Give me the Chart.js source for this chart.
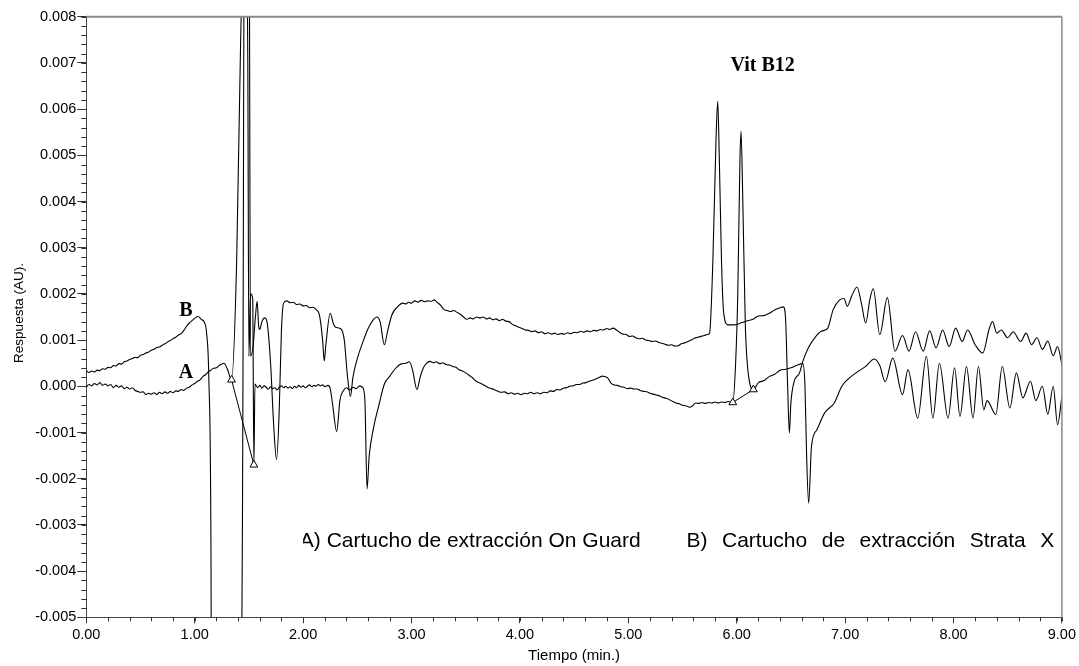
<!DOCTYPE html>
<html>
<head>
<meta charset="utf-8">
<script src="https://cdn.jsdelivr.net/npm/chart.js@4.4.1/dist/chart.umd.min.js"></script>
<style>
  html, body { margin: 0; padding: 0; background: #fff; }
  #wrap { width: 1079px; height: 666px; position: relative; }
</style>
</head>
<body>
<div id="wrap"><canvas id="chroma"></canvas></div>
<script>
// Trace A - cartucho On Guard (tiempo en min, respuesta en AU)
const timeA = [
  0.000, 0.025, 0.050, 0.075, 0.100, 0.125, 0.150, 0.175, 0.200, 0.225, 0.250, 0.275, 0.300, 0.325, 0.350, 0.375,
  0.400, 0.425, 0.450, 0.475, 0.500, 0.525, 0.550, 0.575, 0.600, 0.625, 0.650, 0.675, 0.700, 0.725, 0.750, 0.775,
  0.800, 0.825, 0.850, 0.875, 0.900, 0.925, 0.950, 0.975, 1.000, 1.025, 1.050, 1.075, 1.100, 1.125, 1.150, 1.175,
  1.200, 1.225, 1.250, 1.270, 1.30, 1.34, 1.387, 1.424, 1.47, 1.49, 1.50, 1.515, 1.535, 1.546,
  1.556, 1.58, 1.60, 1.62, 1.64, 1.66, 1.68, 1.70, 1.72, 1.74, 1.76, 1.78, 1.80, 1.82, 1.84, 1.86,
  1.88, 1.90, 1.92, 1.94, 1.96, 1.98, 2.00, 2.02, 2.04, 2.06, 2.08, 2.10, 2.12, 2.14, 2.16, 2.18,
  2.20, 2.23, 2.25, 2.27, 2.31, 2.34, 2.37, 2.40, 2.43, 2.46, 2.49, 2.52, 2.55, 2.57, 2.59, 2.61,
  2.65, 2.70, 2.75, 2.80, 2.85, 2.90, 2.95, 2.98, 3.01, 3.05, 3.08,
  3.11, 3.14, 3.17, 3.20, 3.23, 3.26, 3.29, 3.32, 3.35, 3.38, 3.41, 3.44, 3.47, 3.50, 3.53, 3.56,
  3.59, 3.62, 3.65, 3.68, 3.71, 3.74, 3.77, 3.80, 3.83, 3.86, 3.89, 3.92, 3.95, 3.98, 4.01, 4.04,
  4.07, 4.10, 4.13, 4.16, 4.19, 4.22, 4.25, 4.28, 4.31, 4.34, 4.37, 4.40, 4.43, 4.46, 4.49, 4.52,
  4.55, 4.58, 4.61, 4.64, 4.67, 4.70, 4.73, 4.76, 4.78, 4.81, 4.84, 4.87, 4.90, 4.93, 4.96, 4.99,
  5.02, 5.05, 5.08, 5.11, 5.14, 5.17, 5.20, 5.23, 5.26, 5.29, 5.32, 5.35, 5.38, 5.41, 5.44, 5.47,
  5.50, 5.53, 5.56, 5.59, 5.62, 5.65, 5.68, 5.71, 5.74, 5.77, 5.80, 5.83, 5.86, 5.89, 5.92, 5.964,
  5.99, 6.01, 6.03, 6.04, 6.055, 6.08, 6.115, 6.154, 6.20, 6.25, 6.30, 6.35, 6.40, 6.45, 6.50, 6.55,
  6.61, 6.63, 6.645, 6.664, 6.69, 6.74, 6.81, 6.90, 6.97, 7.02, 7.10, 7.19, 7.27, 7.32, 7.37, 7.44,
  7.53, 7.58, 7.67, 7.75, 7.81, 7.87, 7.95, 8.01, 8.06, 8.12, 8.18, 8.23, 8.28, 8.31, 8.39, 8.45,
  8.52, 8.58, 8.64, 8.71, 8.76, 8.82, 8.87, 8.92, 8.96, 9.00
];
const respA = [
  -0.00002, 0.00004, 0.00001, 0.00006, 0.00003, 0.00008, 0.00002, 0.00005, 0.00001, 0.00004, -0.00003, 0.00002, -0.00002, 0.00001, -0.00005, -0.00002,
  -0.00006, -0.00003, -0.00009, -0.00011, -0.00013, -0.00012, -0.00018, -0.00015, -0.00017, -0.00014, -0.00018, -0.00013, -0.00016, -0.00012, -0.00015, -0.00011,
  -0.00014, -0.00010, -0.00011, -0.00007, -0.00009, -0.00004, -0.00002, 0.00003, 0.00006, 0.00011, 0.00014, 0.00021, 0.00025, 0.00031, 0.00035, 0.00039,
  0.00040, 0.00045, 0.00048, 0.00050, 0.00038, 0.00014, 0.0027, 0.0075, 0.011, 0.007, 0.00065, 0.0020, 0.0019, -0.0017,
  0.00005, -0.00003, 0.00002, -0.00004, 0.00001, -0.00002, -0.00006, -0.00001, -0.00005, -0.00003, -0.00008, -0.00002, 0.00001, -0.00003, 0.00000, -0.00004,
  -0.00001, -0.00005, 0.00000, -0.00003, 0.00002, -0.00002, 0.00001, -0.00003, 0.00000, 0.00003, -0.00001, 0.00002, 0.00000, 0.00004, 0.00001, 0.00003,
  -0.00001, 0.00002, -0.00005, -0.00035, -0.00098, -0.00030, -0.00010, -0.00003, -0.00008, -0.00002, -0.00005, 0.00001, -0.00003, -0.00030, -0.00222, -0.00150,
  -0.00090, -0.00040, 0.00005, 0.00022, 0.00038, 0.00048, 0.00050, 0.00053, 0.00035, -0.00007, 0.00020,
  0.00040, 0.00050, 0.00054, 0.00051, 0.00053, 0.00049, 0.00051, 0.00047, 0.00046, 0.00043, 0.00041, 0.00036, 0.00033, 0.00029, 0.00024, 0.00019,
  0.00012, 0.00008, 0.00005, 0.00001, -0.00003, -0.00005, -0.00008, -0.00011, -0.00013, -0.00012, -0.00016, -0.00014, -0.00017, -0.00015, -0.00018, -0.00015,
  -0.00016, -0.00013, -0.00016, -0.00014, -0.00016, -0.00013, -0.00014, -0.00010, -0.00011, -0.00007, -0.00008, -0.00004, -0.00003, 0.00000, 0.00001, 0.00004,
  0.00004, 0.00007, 0.00008, 0.00011, 0.00013, 0.00016, 0.00019, 0.00022, 0.00021, 0.00018, 0.00007, 0.00003, 0.00002, -0.00001, -0.00002, -0.00005,
  -0.00004, -0.00006, -0.00006, -0.00009, -0.00011, -0.00012, -0.00015, -0.00017, -0.00019, -0.00021, -0.00024, -0.00026, -0.00029, -0.00033, -0.00036, -0.00038,
  -0.00041, -0.00042, -0.00045, -0.00043, -0.00036, -0.00037, -0.00035, -0.00037, -0.00035, -0.00036, -0.00034, -0.00036, -0.00034, -0.00035, -0.00033, -0.00035,
  0.0005, 0.0020, 0.0049, 0.00552, 0.00418, 0.0013, 0.00014, -0.00007, 0.00008, 0.00012, 0.00021, 0.00026, 0.00035, 0.00037, 0.00040, 0.00045,
  0.00049, 0.00000, -0.0015, -0.00253, -0.0013, -0.00094, -0.00058, -0.00036, 0.00000, 0.00014, 0.00029, 0.00043, 0.00059, 0.00045, 0.00010, 0.00061,
  -0.00018, 0.00036, -0.00069, 0.00065, -0.00069, 0.00050, -0.00069, 0.00040, -0.00065, 0.00043, -0.00069, 0.00043, -0.00051, -0.00031, -0.00061, 0.00043,
  -0.00047, 0.00029, -0.00025, 0.00011, -0.00031, 0.00000, -0.00061, 0.00000, -0.00083, -0.00022
];

// Trace B - cartucho Strata X
const timeB = [
  0.000, 0.025, 0.050, 0.075, 0.100, 0.125, 0.150, 0.175, 0.200, 0.225, 0.250, 0.275, 0.300, 0.325, 0.350, 0.375,
  0.400, 0.425, 0.450, 0.475, 0.500, 0.525, 0.550, 0.575, 0.600, 0.625, 0.650, 0.675, 0.700, 0.725, 0.750, 0.775,
  0.800, 0.825, 0.850, 0.875, 0.900, 0.925, 0.950, 0.975, 1.000, 1.03, 1.06, 1.09, 1.11, 1.13, 1.15, 1.16,
  1.42, 1.445, 1.46, 1.50, 1.515, 1.54, 1.56, 1.576, 1.59, 1.60, 1.62, 1.647, 1.67, 1.70, 1.73, 1.755,
  1.78, 1.80, 1.82, 1.85, 1.88, 1.91, 1.94, 1.97, 2.00, 2.03, 2.06, 2.09, 2.12, 2.15, 2.18, 2.195,
  2.21, 2.25, 2.28, 2.30, 2.35, 2.38, 2.41, 2.437, 2.46, 2.50, 2.55, 2.60, 2.65, 2.68, 2.71, 2.75,
  2.78, 2.82, 2.87, 2.92, 2.95, 2.97, 3.00, 3.03, 3.06, 3.09, 3.12, 3.15, 3.18, 3.21, 3.24, 3.27,
  3.30, 3.33, 3.36, 3.39, 3.42, 3.45, 3.48, 3.51, 3.54, 3.57, 3.60, 3.63, 3.66, 3.69, 3.72, 3.75,
  3.78, 3.81, 3.84, 3.87, 3.90, 3.93, 3.96, 3.99, 4.02, 4.05, 4.08, 4.11, 4.14, 4.17, 4.20, 4.23,
  4.26, 4.29, 4.32, 4.35, 4.38, 4.41, 4.44, 4.47, 4.50, 4.53, 4.56, 4.59, 4.62, 4.65, 4.68, 4.71,
  4.74, 4.77, 4.80, 4.83, 4.86, 4.89, 4.92, 4.95, 4.98, 5.01, 5.04, 5.07, 5.10, 5.13, 5.16, 5.19,
  5.22, 5.25, 5.28, 5.31, 5.34, 5.37, 5.40, 5.43, 5.46, 5.49, 5.52, 5.55, 5.58, 5.61, 5.64, 5.67,
  5.70, 5.73, 5.75, 5.78, 5.81, 5.825, 5.84, 5.86, 5.88, 5.92, 5.98, 6.05, 6.10, 6.15, 6.20, 6.25,
  6.30, 6.35, 6.40, 6.43, 6.45, 6.47, 6.486, 6.50, 6.53, 6.58, 6.61, 6.66, 6.72, 6.78, 6.84, 6.89,
  6.95, 6.99, 7.02, 7.06, 7.11, 7.15, 7.19, 7.23, 7.26, 7.32, 7.39, 7.46, 7.53, 7.59, 7.65, 7.72,
  7.78, 7.84, 7.90, 7.96, 8.02, 8.08, 8.13, 8.20, 8.27, 8.33, 8.36, 8.40, 8.44, 8.50, 8.55, 8.62,
  8.67, 8.72, 8.77, 8.82, 8.87, 8.92, 8.96, 9.00
];
const respB = [
  0.00034, 0.00030, 0.00033, 0.00031, 0.00035, 0.00034, 0.00038, 0.00037, 0.00041, 0.00040, 0.00045, 0.00044, 0.00049, 0.00048, 0.00053, 0.00055,
  0.00058, 0.00060, 0.00063, 0.00062, 0.00067, 0.00069, 0.00072, 0.00074, 0.00078, 0.00080, 0.00084, 0.00085, 0.00089, 0.00092, 0.00096, 0.00099,
  0.00103, 0.00106, 0.00111, 0.00114, 0.00121, 0.00130, 0.00137, 0.00142, 0.00147, 0.00151, 0.00145, 0.00138, 0.00115, 0.0002, -0.0035, -0.012,
  -0.012, 0.0, 0.012, 0.012, 0.00065, 0.0009, 0.0015, 0.00184, 0.0013, 0.00123, 0.0014, 0.00148, 0.00135, 0.0005, -0.0009, -0.00159,
  -0.0005, 0.0012, 0.0018, 0.00185, 0.00181, 0.00182, 0.00177, 0.00178, 0.00174, 0.00175, 0.00170, 0.00171, 0.00166, 0.00155, 0.0010, 0.00055,
  0.0009, 0.00158, 0.00135, 0.00128, 0.00124, 0.0010, 0.0002, -0.00022, 0.0002, 0.0006, 0.00095, 0.00125, 0.00145, 0.00150, 0.00140, 0.00090,
  0.0012, 0.00155, 0.00172, 0.00180, 0.00178, 0.00182, 0.00180, 0.00185, 0.00182, 0.00186, 0.00183, 0.00185, 0.00184, 0.00187, 0.00181, 0.00175,
  0.00166, 0.00164, 0.00162, 0.00164, 0.00160, 0.00156, 0.00150, 0.00145, 0.00148, 0.00146, 0.00150, 0.00148, 0.00150, 0.00146, 0.00148, 0.00144,
  0.00146, 0.00142, 0.00145, 0.00141, 0.00140, 0.00134, 0.00131, 0.00128, 0.00125, 0.00122, 0.00121, 0.00118, 0.00120, 0.00116, 0.00118, 0.00114,
  0.00116, 0.00113, 0.00115, 0.00112, 0.00114, 0.00113, 0.00116, 0.00114, 0.00117, 0.00116, 0.00119, 0.00117, 0.00120, 0.00118, 0.00121, 0.00120,
  0.00123, 0.00122, 0.00125, 0.00123, 0.00126, 0.00122, 0.00117, 0.00113, 0.00112, 0.00108, 0.00109, 0.00105, 0.00103, 0.00104, 0.00100, 0.00099,
  0.00097, 0.00098, 0.00095, 0.00093, 0.00091, 0.00089, 0.00090, 0.00087, 0.00088, 0.00092, 0.00094, 0.00097, 0.00100, 0.00104, 0.00106, 0.00108,
  0.00110, 0.00112, 0.00115, 0.0027, 0.0054, 0.00617, 0.0049, 0.0027, 0.00159, 0.00133, 0.00133, 0.00138, 0.00142, 0.00145, 0.00152, 0.00153,
  0.00158, 0.00165, 0.00170, 0.00172, 0.0015, 0.0000, -0.00101, -0.00036, 0.0001, 0.00029, 0.00054, 0.00083, 0.00105, 0.00119, 0.00126, 0.00166,
  0.00187, 0.00190, 0.00173, 0.00195, 0.00215, 0.00180, 0.00137, 0.00190, 0.00211, 0.00112, 0.00192, 0.00076, 0.00110, 0.00076, 0.00118, 0.00076,
  0.00120, 0.00083, 0.00122, 0.00086, 0.00126, 0.00097, 0.00122, 0.00090, 0.00072, 0.00125, 0.00140, 0.00115, 0.00122, 0.00105, 0.00118, 0.00097,
  0.00115, 0.00090, 0.00105, 0.00080, 0.00098, 0.00066, 0.00086, 0.00047
];

// integration baselines (start / end of the marked peaks)
const baseTime1 = [1.34, 1.546];
const baseResp1 = [0.00014, -0.0017];
const baseTime2 = [5.964, 6.154];
const baseResp2 = [-0.00035, -0.00007];

// axis range and ticks
const xMin = 0, xMax = 9, xStep = 1, xMinor = 0.2;
const yMin = -0.005, yMax = 0.008, yStep = 0.001, yMinor = 0.0002;

const pts = (t, v) => t.map((x, i) => ({ x: x, y: v[i] }));

const traceStyle = {
  borderColor: '#000',
  borderWidth: 1.1,
  pointRadius: 0,
  cubicInterpolationMode: 'monotone',
  fill: false
};
const baseStyle = {
  borderColor: '#000',
  borderWidth: 1,
  pointStyle: 'triangle',
  pointRadius: 4.5,
  pointBackgroundColor: '#fff',
  pointBorderColor: '#000',
  pointBorderWidth: 1,
  tension: 0,
  fill: false
};

// minor ticks, frame and the text labels
const decor = {
  id: 'decor',
  afterDraw(chart) {
    const { ctx, chartArea: ca, scales: { x, y } } = chart;
    ctx.save();
    // top and right frame
    ctx.strokeStyle = '#8a8a8a';
    ctx.lineWidth = 2;
    ctx.beginPath();
    ctx.moveTo(ca.left, ca.top);
    ctx.lineTo(ca.right, ca.top);
    ctx.stroke();
    ctx.lineWidth = 1.5;
    ctx.beginPath();
    ctx.moveTo(ca.right, ca.top);
    ctx.lineTo(ca.right, ca.bottom);
    ctx.stroke();

    // minor ticks
    ctx.strokeStyle = '#333';
    ctx.lineWidth = 1;
    ctx.beginPath();
    for (let v = yMin; v <= yMax + 1e-9; v += yMinor) {
      const py = Math.round(y.getPixelForValue(v)) + 0.5;
      ctx.moveTo(ca.left - 5, py);
      ctx.lineTo(ca.left, py);
    }
    for (let t = xMin; t <= xMax + 1e-9; t += xMinor) {
      const px = Math.round(x.getPixelForValue(t)) + 0.5;
      ctx.moveTo(px, ca.bottom);
      ctx.lineTo(px, ca.bottom + 4);
    }
    ctx.stroke();

    ctx.fillStyle = '#000';
    // axis titles
    ctx.font = "13.5px 'Liberation Sans', Arial, sans-serif";
    ctx.textAlign = 'center';
    ctx.textBaseline = 'middle';
    ctx.save();
    ctx.translate(19, (ca.top + ca.bottom) / 2 - 4);
    ctx.rotate(-Math.PI / 2);
    ctx.fillText('Respuesta (AU).', 0, 0);
    ctx.restore();
    ctx.font = "15px 'Liberation Sans', Arial, sans-serif";
    ctx.textBaseline = 'alphabetic';
    ctx.fillText('Tiempo (min.)', (ca.left + ca.right) / 2, 660);

    // trace names and peak label
    ctx.font = "bold 20px 'Liberation Serif', 'Times New Roman', serif";
    ctx.fillText('B', x.getPixelForValue(0.92), y.getPixelForValue(0.00153));
    ctx.fillText('A', x.getPixelForValue(0.92), y.getPixelForValue(0.00019));
    ctx.fillText('Vit B12', x.getPixelForValue(6.24), y.getPixelForValue(0.00682));

    // sample captions
    ctx.font = "21px 'Liberation Sans', Arial, sans-serif";
    ctx.textAlign = 'left';
    const base = y.getPixelForValue(-0.00347);
    ctx.save();
    ctx.beginPath();
    ctx.rect(x.getPixelForValue(2.0), ca.top, ca.right, ca.bottom - ca.top);
    ctx.clip();
    ctx.fillText('A) Cartucho de extracción On Guard', x.getPixelForValue(1.97), base);
    ctx.restore();

    const words = ['B)', 'Cartucho', 'de', 'extracción', 'Strata', 'X'];
    const x0 = x.getPixelForValue(5.537), x1 = x.getPixelForValue(8.93);
    const widths = words.map(w => ctx.measureText(w).width);
    const gap = (x1 - x0 - widths.reduce((a, b) => a + b, 0)) / (words.length - 1);
    let cx = x0;
    words.forEach((w, i) => {
      ctx.fillText(w, cx, base);
      cx += widths[i] + gap;
    });
    ctx.restore();
  }
};

Chart.defaults.font.family = "'Liberation Sans', Arial, sans-serif";
Chart.defaults.font.size = 14.5;
Chart.defaults.color = '#000';

new Chart(document.getElementById('chroma'), {
  type: 'line',
  data: {
    datasets: [
      Object.assign({ data: pts(baseTime1, baseResp1) }, baseStyle),
      Object.assign({ data: pts(baseTime2, baseResp2) }, baseStyle),
      Object.assign({ data: pts(timeA, respA) }, traceStyle),
      Object.assign({ data: pts(timeB, respB) }, traceStyle)
    ]
  },
  options: {
    responsive: true,
    maintainAspectRatio: false,
    animation: false,
    events: [],
    layout: { padding: { top: 16.7, right: 16.3, left: 0, bottom: 0 } },
    plugins: { legend: { display: false }, tooltip: { enabled: false } },
    scales: {
      x: {
        type: 'linear',
        min: xMin,
        max: xMax,
        afterFit: s => { s.height = 48.7; },
        ticks: {
          stepSize: xStep,
          padding: 3,
          maxRotation: 0,
          callback: v => v.toFixed(2)
        },
        grid: { display: true, drawOnChartArea: false, drawTicks: true, tickLength: 6, color: '#333' },
        border: { display: true, color: '#444', width: 1 }
      },
      y: {
        type: 'linear',
        min: yMin,
        max: yMax,
        afterFit: s => { s.width = 86.3; },
        ticks: {
          stepSize: yStep,
          padding: 1,
          callback: v => (Math.abs(v) < 1e-9 ? 0 : v).toFixed(3)
        },
        grid: { display: true, drawOnChartArea: false, drawTicks: true, tickLength: 9, color: '#333' },
        border: { display: true, color: '#444', width: 1 }
      }
    }
  },
  plugins: [decor]
});
</script>
</body>
</html>
